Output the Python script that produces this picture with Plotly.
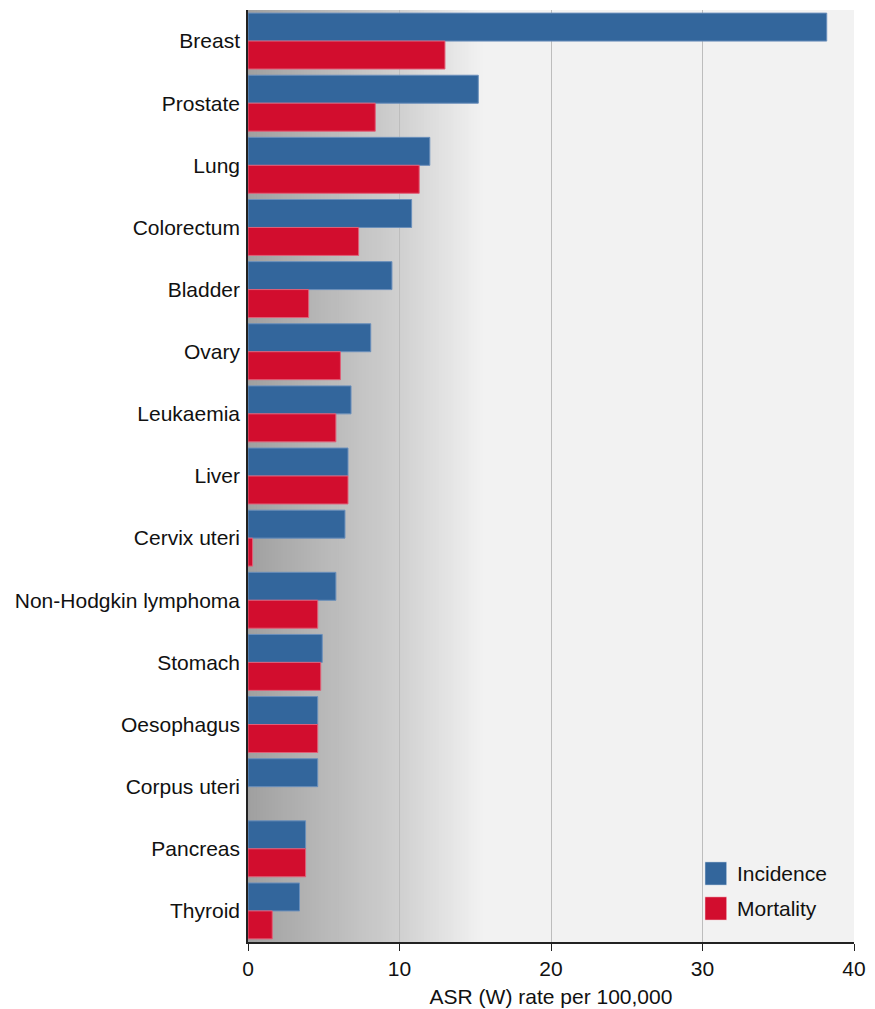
import plotly.graph_objects as go

categories = ["Breast", "Prostate", "Lung", "Colorectum", "Bladder", "Ovary",
              "Leukaemia", "Liver", "Cervix uteri", "Non-Hodgkin lymphoma",
              "Stomach", "Oesophagus", "Corpus uteri", "Pancreas", "Thyroid"]
incidence = [38.2, 15.2, 12.0, 10.8, 9.5, 8.1, 6.8, 6.6, 6.4, 5.8, 4.9, 4.6, 4.6, 3.8, 3.4]
mortality = [13.0, 8.4, 11.3, 7.3, 4.0, 6.1, 5.8, 6.6, 0.3, 4.6, 4.8, 4.6, None, 3.8, 1.6]
x_ticks = [0, 10, 20, 30, 40]
series_names = ["Incidence", "Mortality"]

BLUE = "#33669c"
RED = "#d20d2e"
FONT = "Liberation Sans, Arial, sans-serif"

fig = go.Figure()
fig.add_trace(go.Bar(y=categories, x=incidence, orientation="h", name=series_names[0],
                     marker=dict(color=BLUE, line=dict(color="#6a8fbb", width=1))))
fig.add_trace(go.Bar(y=categories, x=mortality, orientation="h", name=series_names[1],
                     marker=dict(color=RED, line=dict(color="#e06078", width=1))))

# gradient background (dark grey at left fading to light grey); overlapping rects avoid seams
stops = [(0.0, 160), (10.0, 208), (15.5, 242)]
shapes = []
n = 80
x_end = stops[-1][0]
for i in range(n):
    a = x_end * i / n
    m = x_end * (i + 0.5) / n
    for (p0, c0), (p1, c1) in zip(stops[:-1], stops[1:]):
        if p0 <= m <= p1:
            c = round(c0 + (c1 - c0) * (m - p0) / (p1 - p0))
            break
    shapes.append(dict(type="rect", xref="x", yref="paper", x0=a, x1=x_end,
                       y0=0, y1=1, fillcolor=f"rgb({c},{c},{c})",
                       line=dict(width=0), layer="below"))

# custom legend (larger swatches like the reference)
legend_colors = [BLUE, RED]
legend_y = [0.0735, 0.036]
annotations = []
for name, col, yc in zip(series_names, legend_colors, legend_y):
    shapes.append(dict(type="rect", xref="paper", yref="paper", x0=0.754, x1=0.790,
                       y0=yc - 0.0125, y1=yc + 0.0125, fillcolor=col,
                       line=dict(color="#ffffff", width=0.5), layer="above"))
    annotations.append(dict(xref="paper", yref="paper", x=0.803, y=yc, text=name,
                            showarrow=False, xanchor="left", yanchor="middle",
                            font=dict(size=21, family=FONT, color="#111111")))

fig.update_layout(
    width=867, height=1001,
    margin=dict(l=240, r=21, t=2, b=67),
    paper_bgcolor="white",
    plot_bgcolor="#f2f2f2",
    barmode="group",
    bargap=0.1,
    bargroupgap=0,
    shapes=shapes,
    annotations=annotations,
    font=dict(family=FONT, size=21, color="#111111"),
    showlegend=False,
    xaxis=dict(range=[0, 40], tickvals=x_ticks, showgrid=True, gridcolor="#bdbdbd",
               gridwidth=1.2, zeroline=False, showline=True, linecolor="#222222",
               linewidth=1.5, ticks="outside", ticklen=7, tickcolor="#222222",
               tickfont=dict(size=21, family=FONT),
               title=dict(text="ASR (W) rate per 100,000", font=dict(size=21, family=FONT),
                          standoff=10)),
    yaxis=dict(autorange="reversed", showline=True, linecolor="#222222", linewidth=1.5,
               showgrid=False, ticks="", ticklabelstandoff=2,
               tickfont=dict(size=21, family=FONT)),
)

fig.write_html("out.html")
